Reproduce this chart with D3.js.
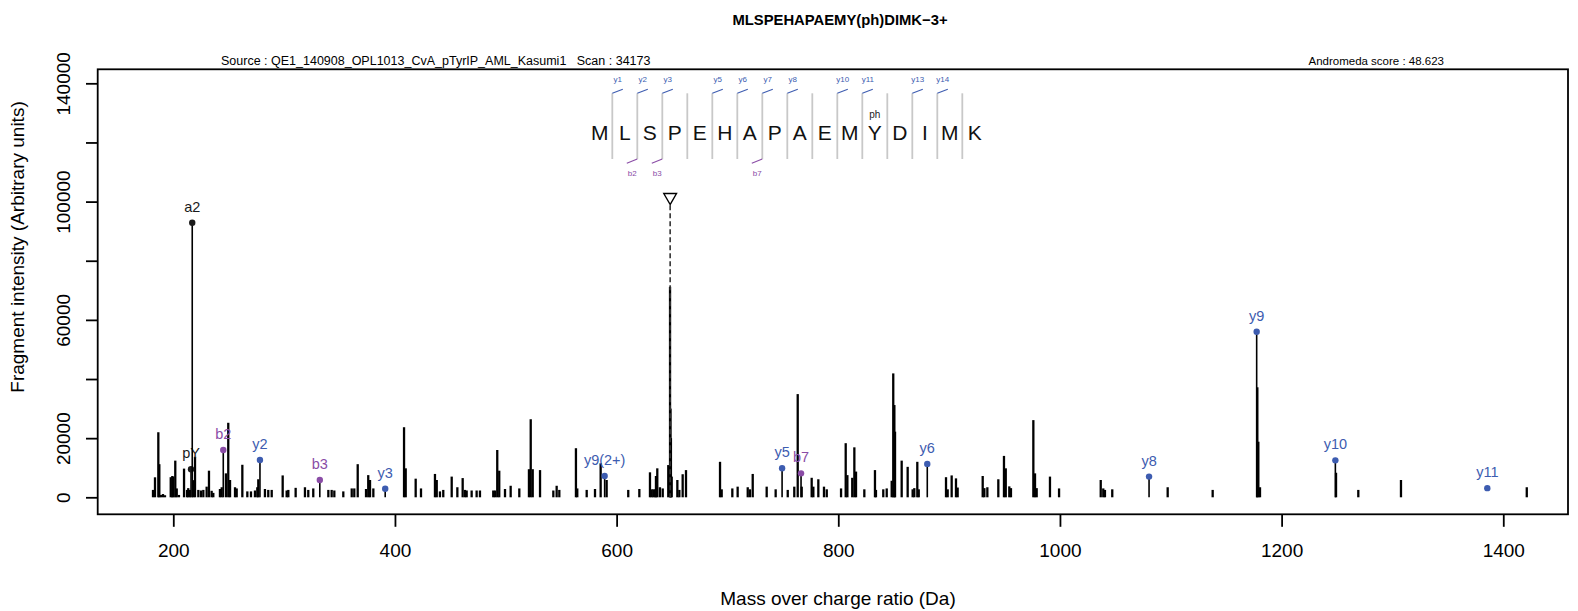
<!DOCTYPE html>
<html>
<head>
<meta charset="utf-8">
<script src="https://cdn.jsdelivr.net/npm/d3@7"></script>
<style>
  body { margin: 0; background: #fff; }
  text { font-family: "Liberation Sans", Arial, Helvetica, sans-serif; }
</style>
</head>
<body>
<div id="wrapper"></div>
<script>
// unannotated fragment peaks (m/z, intensity)
const peakMz = [181.7, 183.5, 186.5, 187.4, 188.9, 190.7, 192.5, 197.7, 199.1, 200.0, 201.8, 203.1, 205.1, 209.7,
  212.4, 213.5, 215.0, 218.0, 219.6, 222.6, 225.0, 227.1, 230.1, 232.2, 234.6, 236.1, 242.1, 243.7, 247.5, 249.6,
  251.2, 255.7, 257.2, 262.3, 266.8, 270.1, 273.7, 275.8, 276.7, 282.7, 285.7, 288.8, 298.7, 302.3, 303.8, 310.4,
  318.8, 321.8, 326.3, 339.9, 342.9, 345.3, 353.4, 361.0, 363.3, 366.4, 373.9, 375.9, 377.5, 380.5, 408.2, 409.7,
  418.7, 423.5, 436.1, 437.7, 440.6, 443.6, 451.2, 456.3, 461.1, 463.2, 464.7, 469.2, 473.7, 476.7, 488.7, 490.3,
  492.3, 494.1, 499.3, 504.4, 512.2, 520.9, 522.5, 524.3, 530.9, 542.9, 545.9, 548.3, 563.3, 564.5, 573.0, 580.5,
  585.6, 591.0, 610.5, 620.5, 630.1, 631.6, 633.1, 634.6, 635.5, 636.7, 639.1, 641.6, 646.6, 648.2, 648.6, 649.0,
  649.7, 654.8, 656.6, 659.6, 662.6, 693.3, 694.8, 704.4, 709.2, 718.3, 720.3, 722.8, 735.4, 743.5, 754.4, 760.3,
  763.4, 767.0, 776.0, 777.5, 782.0, 787.1, 789.6, 802.5, 806.7, 808.2, 812.6, 814.5, 816.0, 823.5, 833.1, 834.0,
  840.6, 843.7, 848.2, 849.6, 850.6, 851.2, 857.2, 862.6, 867.1, 868.6, 871.3, 872.6, 897.2, 898.7, 902.3, 906.2,
  907.7, 930.3, 931.8, 934.5, 944.4, 949.5, 951.1, 954.3, 955.8, 976.0, 977.5, 979.0, 991.0, 999.2, 1036.8, 1039.1,
  1040.6, 1047.2, 1097.2, 1137.8, 1178.1, 1179.0, 1180.5, 1249.1, 1269.2, 1307.7, 1421.2]
const peakInt = [2500, 6760, 22000, 11200, 800, 1100, 700, 6800, 7200, 7000, 12400, 3000, 800, 9700,
  2500, 3100, 2500, 5800, 13700, 2500, 2300, 2500, 3600, 9000, 2200, 1500, 2800, 3400, 8100, 25200,
  5850, 3400, 3000, 11000, 2000, 2000, 2300, 3400, 6100, 2800, 2500, 2500, 7400, 2300, 2500, 3200,
  3400, 2500, 3000, 2500, 2500, 2300, 2000, 3000, 3000, 11200, 2800, 7500, 5850, 3000, 23700, 9800,
  6300, 3000, 7900, 5850, 2000, 2500, 7000, 3400, 6500, 2500, 2300, 2300, 2300, 2300, 2300, 2300,
  16000, 9000, 2800, 3900, 3000, 9500, 26400, 9500, 9200, 2300, 3900, 2500, 16600, 3000, 2500, 2800,
  11500, 5850, 2500, 2800, 8450, 2700, 2700, 2700, 7200, 9800, 3400, 3000, 10900, 71200, 30000, 20000,
  7000, 5850, 2500, 7800, 9200, 12000, 2700, 3000, 3600, 3400, 2700, 7900, 3600, 2700, 2500, 3600,
  34900, 3600, 6600, 3600, 6100, 3600, 2700, 3000, 18300, 7500, 6600, 16900, 8700, 2700, 9200, 2500,
  2700, 3000, 5600, 41900, 31200, 22200, 12400, 10300, 2700, 3100, 12000, 2700, 6800, 2700, 7400, 6400,
  3300, 7200, 3100, 3400, 6100, 14000, 9800, 3700, 3100, 26100, 8100, 3100, 7000, 3000, 5850, 3000,
  2500, 2700, 3400, 2500, 37200, 18800, 3400, 8300, 2500, 5850, 3400]

// annotated ions
const ionLabel = ["pY", "a2", "b2", "y2", "b3", "y3", "y9(2+)", "y5", "b7", "y6", "y8", "y9", "y10", "y11"]
const ionMz = [216.0, 217.1, 245.1, 278.2, 332.2, 391.2, 589.2, 749.3, 766.4, 880.3, 1080.4, 1177.5, 1248.5, 1385.6]
const ionInt = [9470, 92870, 16000, 12600, 5850, 2900, 7200, 9800, 8100, 11300, 7000, 56000, 12500, 3100]
const ionType = ["o", "o", "b", "y", "b", "y", "y", "y", "b", "y", "y", "y", "y", "y"]
const ionStick = [true, true, true, true, true, true, true, true, true, true, true, true, true, false]

// peptide sequence coverage
const sequence = ["M", "L", "S", "P", "E", "H", "A", "P", "A", "E", "M", "Y", "D", "I", "M", "K"]
const yCover = [1, 2, 3, 5, 6, 7, 8, 10, 11, 13, 14]
const bCover = [2, 3, 7]
const modSite = 11
const modLabel = "ph"

const precursorMz = 648.3
const precursorInt = 101500

const yTicks = [0, 20000, 40000, 60000, 80000, 100000, 120000, 140000]
const yTickLabels = [0, 20000, 60000, 100000, 140000]
const xTicks = [200, 400, 600, 800, 1000, 1200, 1400]

const titleText = "MLSPEHAPAEMY(ph)DIMK\u22123+"
const sourceText = "Source : QE1_140908_OPL1013_CvA_pTyrIP_AML_Kasumi1   Scan : 34173"
const scoreText = "Andromeda score : 48.623"

const colors = { o: "#1a1a1a", b: "#8a4ca6", y: "#3d5cb0" }

const dimensions = {
  width: 1578,
  height: 611,
  margin: { top: 69.3, right: 10, bottom: 96.7, left: 97.7 }
}
dimensions.boundedWidth = dimensions.width - dimensions.margin.left - dimensions.margin.right
dimensions.boundedHeight = dimensions.height - dimensions.margin.top - dimensions.margin.bottom

const svg = d3.select("#wrapper")
  .append("svg")
  .attr("width", dimensions.width)
  .attr("height", dimensions.height)

const bounds = svg.append("g")
  .attr("transform", `translate(${dimensions.margin.left},${dimensions.margin.top})`)

const xScale = d3.scaleLinear()
  .domain([131.8, 1458.4])
  .range([0, dimensions.boundedWidth])
const yScale = d3.scaleLinear()
  .domain([-5750, 144740])
  .range([dimensions.boundedHeight, 0])

// peaks
bounds.append("g")
  .selectAll("line")
  .data(peakMz)
  .join("line")
  .attr("x1", d => xScale(d))
  .attr("x2", d => xScale(d))
  .attr("y1", yScale(0))
  .attr("y2", (d, i) => yScale(peakInt[i]))
  .attr("stroke", "#000")
  .attr("stroke-width", 2.3)

// precursor
const px = xScale(precursorMz)
const py = yScale(precursorInt)
bounds.append("line")
  .attr("x1", px).attr("x2", px)
  .attr("y1", py + 8).attr("y2", yScale(0))
  .attr("stroke", "#333")
  .attr("stroke-width", 1.6)
  .attr("stroke-dasharray", "5,3")
bounds.append("path")
  .attr("d", d3.symbol(d3.symbolTriangle, 70)())
  .attr("transform", `translate(${px},${py}) rotate(180)`)
  .attr("fill", "none")
  .attr("stroke", "#000")
  .attr("stroke-width", 1.4)

// annotated ions
const ions = bounds.append("g")
ionMz.forEach((mz, i) => {
  const x = xScale(mz)
  const y = yScale(ionInt[i])
  if (ionStick[i]) {
    ions.append("line")
      .attr("x1", x).attr("x2", x)
      .attr("y1", yScale(0)).attr("y2", y)
      .attr("stroke", "#000")
      .attr("stroke-width", 1.6)
  }
  ions.append("circle")
    .attr("cx", x).attr("cy", y).attr("r", 3.2)
    .attr("fill", colors[ionType[i]])
  ions.append("text")
    .attr("x", x).attr("y", y - 11)
    .attr("text-anchor", "middle")
    .attr("font-size", 14.5)
    .attr("fill", colors[ionType[i]])
    .text(ionLabel[i])
})

// frame
bounds.append("rect")
  .attr("width", dimensions.boundedWidth)
  .attr("height", dimensions.boundedHeight)
  .attr("fill", "none")
  .attr("stroke", "#000")
  .attr("stroke-width", 1.8)

// axes
const yAxis = bounds.append("g")
  .call(d3.axisLeft(yScale).tickValues(yTicks).tickSize(11.7).tickFormat(d => yTickLabels.includes(d) ? d : ""))
yAxis.select(".domain").remove()
yAxis.selectAll("line").attr("stroke-width", 1.8)
yAxis.selectAll("text")
  .attr("transform", "rotate(-90)")
  .attr("x", 0).attr("y", -(dimensions.margin.left - 70))
  .attr("dy", 0)
  .attr("text-anchor", "middle")
  .attr("font-size", 19)
  .attr("font-family", "Liberation Sans, Arial, sans-serif")
  .attr("fill", "#000")

const xAxis = bounds.append("g")
  .attr("transform", `translate(0,${dimensions.boundedHeight})`)
  .call(d3.axisBottom(xScale).tickValues(xTicks).tickSize(12.5).tickFormat(d3.format("d")))
xAxis.select(".domain").remove()
xAxis.selectAll("line").attr("stroke-width", 1.8)
xAxis.selectAll("text")
  .attr("y", 43).attr("dy", 0)
  .attr("font-size", 19)
  .attr("font-family", "Liberation Sans, Arial, sans-serif")
  .attr("fill", "#000")

// axis titles
svg.append("text")
  .attr("x", 838).attr("y", 605)
  .attr("text-anchor", "middle")
  .attr("font-size", 19)
  .text("Mass over charge ratio (Da)")
svg.append("text")
  .attr("transform", "translate(24,247) rotate(-90)")
  .attr("text-anchor", "middle")
  .attr("font-size", 19)
  .text("Fragment intensity (Arbitrary units)")

// titles
svg.append("text")
  .attr("x", 840).attr("y", 25)
  .attr("text-anchor", "middle")
  .attr("font-size", 14.8)
  .attr("font-weight", "bold")
  .text(titleText)
svg.append("text")
  .attr("x", 221).attr("y", 65)
  .attr("font-size", 12.5)
  .attr("xml:space", "preserve")
  .style("white-space", "pre")
  .text(sourceText)
svg.append("text")
  .attr("x", 1444).attr("y", 65)
  .attr("text-anchor", "end")
  .attr("font-size", 11.5)
  .text(scoreText)

// sequence coverage
const seqScale = d3.scaleLinear().domain([0, 15]).range([599.8, 974.8])
const seqTop = 93.3
const seqBottom = 159
const seq = svg.append("g")
seq.selectAll("text.aa")
  .data(sequence)
  .join("text")
  .attr("class", "aa")
  .attr("x", (d, i) => seqScale(i))
  .attr("y", 140)
  .attr("text-anchor", "middle")
  .attr("font-size", 21)
  .attr("fill", "#111")
  .text(d => d)
seq.selectAll("line.sep")
  .data(d3.range(1, sequence.length))
  .join("line")
  .attr("class", "sep")
  .attr("x1", d => seqScale(d - 0.5))
  .attr("x2", d => seqScale(d - 0.5))
  .attr("y1", seqTop).attr("y2", seqBottom)
  .attr("stroke", "#c8c8c8")
  .attr("stroke-width", 1.8)
yCover.forEach(k => {
  const sx = seqScale(k - 0.5)
  seq.append("line")
    .attr("x1", sx).attr("y1", seqTop)
    .attr("x2", sx + 10.5).attr("y2", seqTop - 4)
    .attr("stroke", colors.y).attr("stroke-width", 1.1)
  seq.append("text")
    .attr("x", sx + 5.5).attr("y", 81.5)
    .attr("text-anchor", "middle")
    .attr("font-size", 8)
    .attr("fill", colors.y)
    .text("y" + k)
})
bCover.forEach(k => {
  const sx = seqScale(k - 0.5)
  seq.append("line")
    .attr("x1", sx).attr("y1", seqBottom)
    .attr("x2", sx - 10.5).attr("y2", seqBottom + 4.3)
    .attr("stroke", colors.b).attr("stroke-width", 1.1)
  seq.append("text")
    .attr("x", sx - 5).attr("y", 176)
    .attr("text-anchor", "middle")
    .attr("font-size", 8)
    .attr("fill", colors.b)
    .text("b" + k)
})
seq.append("text")
  .attr("x", seqScale(modSite))
  .attr("y", 117.5)
  .attr("text-anchor", "middle")
  .attr("font-size", 10)
  .attr("fill", "#222")
  .text(modLabel)
</script>
</body>
</html>
